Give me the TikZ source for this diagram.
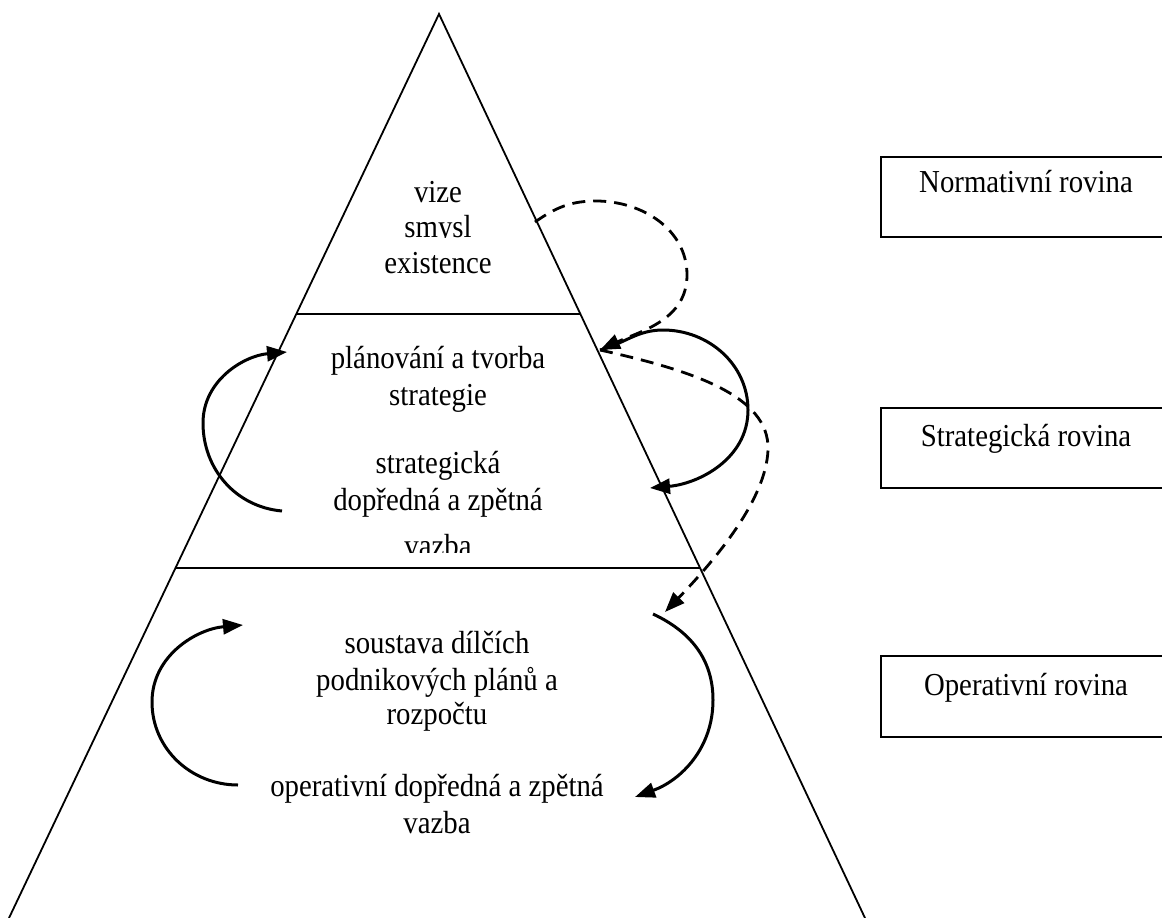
\documentclass[tikz,border=0pt]{standalone}
\usepackage{fontspec}
\setmainfont[FakeStretch=0.9]{Liberation Serif}
\usetikzlibrary{arrows.meta,calc}

\tikzset{
  lbl/.style={anchor=base, inner sep=0pt, font=\fontsize{32pt}{38pt}\selectfont},
  edge/.style={line width=1.8pt},
  levelbox/.style={line width=2.4pt},
  loop/.style={line width=3pt, -{Triangle[length=20pt,width=15pt]}},
  dashloop/.style={line width=2.8pt, dash pattern=on 13pt off 8pt, -{Triangle[length=20pt,width=15pt]}},
}

\begin{document}
\begin{tikzpicture}[x=1pt,y=-1pt]
\clip (0,0) rectangle (1162,918);
\fill[white] (0,0) rectangle (1162,918);

% pyramid
\coordinate (apex) at (439,14);
\coordinate (bl) at (9,918);
\coordinate (br) at (865,918);
\draw[edge] (bl) -- (apex) -- (br);

% level borders
\coordinate (l1) at ($(apex)!0.3319!(bl)$);
\coordinate (r1) at ($(apex)!0.3319!(br)$);
\coordinate (l2) at ($(apex)!0.6128!(bl)$);
\coordinate (r2) at ($(apex)!0.6128!(br)$);
\draw[edge] (l1) -- (r1);
\draw[edge] (l2) -- (r2);

% normative level
\node[lbl] (vize) at (438,202) {vize};
\begin{scope}
  \clip (300,200) rectangle (580,237);
  \node[lbl] (smysl) at (438,237) {smysl};
\end{scope}
\node[lbl] (existence) at (438,273) {existence};

% strategic level
\node[lbl] (plan1) at (438,368) {plánování a tvorba};
\node[lbl] (plan2) at (438,405) {strategie};
\node[lbl] (svazba1) at (438,473) {strategická};
\node[lbl] (svazba2) at (438,510) {dopředná a zpětná};
\begin{scope}
  \clip (300,520) rectangle (580,552);
  \node[lbl] (svazba3) at (438,556) {vazba};
\end{scope}

% operative level
\node[lbl] (op1) at (437,653) {soustava dílčích};
\node[lbl] (op2) at (437,690) {podnikových plánů a};
\node[lbl] (op3) at (437,724) {rozpočtu};
\node[lbl] (ovazba1) at (437,796) {operativní dopředná a zpětná};
\node[lbl] (ovazba2) at (437,833) {vazba};

% level names
\draw[levelbox] (881,157) rectangle (1175,237);
\node[lbl] (norm) at (1026,192) {Normativní rovina};
\draw[levelbox] (881,408) rectangle (1175,488);
\node[lbl] (strat) at (1026,446) {Strategická rovina};
\draw[levelbox] (881,656) rectangle (1175,737);
\node[lbl] (oper) at (1026,695) {Operativní rovina};

% feedback loops
\coordinate (sLs) at (282,511);
\coordinate (sLm) at (203,423);
\coordinate (sLe) at (287,352);
\draw[loop] (sLs) to[out=175,in=-90] (sLm) to[out=90,in=185] (sLe);

\coordinate (sRs) at (600,350);
\coordinate (sRt) at (663,330);
\coordinate (sRm) at (748,410);
\coordinate (sRe) at (650,488);
\draw[loop] (sRs) to[out=15,in=180] (sRt) to[out=0,in=90] (sRm) to[out=-90,in=5] (sRe);

\coordinate (oLs) at (238,785);
\coordinate (oLm) at (152,702);
\coordinate (oLe) at (243,625);
\draw[loop] (oLs) to[out=180,in=-90] (oLm) to[out=90,in=185] (oLe);

\coordinate (oRs) at (653,614);
\coordinate (oRm) at (713,700);
\coordinate (oRe) at (635,797);
\draw[loop] (oRs) to[out=-25,in=90] (oRm) to[out=-90,in=20] (oRe);

% links between levels
\coordinate (nS) at (535,222);
\coordinate (nT) at (596,201);
\coordinate (nR) at (687,275);
\draw[dashloop] (nS) to[out=35,in=180] (nT) to[out=0,in=90] (nR) to[out=-90,in=25] (sRs);

\coordinate (dM) at (768,450);
\coordinate (dE) at (665,612);
\draw[dashloop] (sRs) .. controls (690,370) and (770,395) .. (dM) .. controls (766,500) and (715,560) .. (dE);
\end{tikzpicture}
\end{document}
